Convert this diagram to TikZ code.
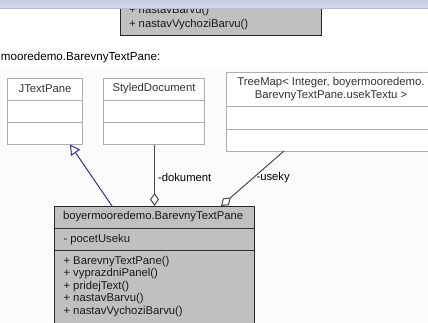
\documentclass[tikz,border=0pt]{standalone}
\usepackage{fontspec}
\setmainfont{Liberation Sans}
\usetikzlibrary{arrows.meta}

\definecolor{barTop}{HTML}{C6CEE3}
\definecolor{barBot}{HTML}{D2D9EA}
\definecolor{barEdge}{HTML}{B4BCD4}
\definecolor{panelBg}{HTML}{FAFBFA}
\definecolor{classGray}{HTML}{C0C0C0}
\definecolor{lightEdge}{HTML}{ADADAD}
\definecolor{inheritBlue}{HTML}{34348A}
\definecolor{assocGray}{HTML}{4A4A4A}

\begin{document}
\begin{tikzpicture}[x=1pt,y=-1pt,
  uml/.style={font=\fontsize{11.3}{13}\selectfont, inner sep=0pt, outer sep=0pt},
  lightbox/.style={draw=lightEdge, fill=white, line width=1pt, rectangle, inner sep=0pt, outer sep=0pt},
  lightline/.style={draw=lightEdge, line width=1pt},
  darkbox/.style={draw=black!85, fill=classGray, line width=1pt, rectangle, inner sep=0pt, outer sep=0pt},
  darkline/.style={draw=black!80, line width=1pt},
  lighttext/.style={uml, text=black!80},
  darktext/.style={uml, text=black!90, anchor=west},
  inherit/.style={draw=inheritBlue, line width=1pt,
    -{Triangle[open, length=10pt, width=11pt, fill=white]}},
  aggreg/.style={draw=assocGray, line width=1pt,
    -{Diamond[open, length=13pt, width=9pt, fill=white]}},
  rolelabel/.style={uml, text=black, anchor=west}]

\clip (0,0) rectangle (428,322);
\useasboundingbox (0,0) rectangle (428,322);
\fill[white] (0,0) rectangle (428,322);
\fill[panelBg] (0,67) rectangle (428,322);

% partly scrolled class box at the top
\node[darkbox, minimum width=201, minimum height=40, anchor=south west] (prev) at (120.5,35.5) {};
\draw[black!85, line width=1.4pt] (prev.north east) -- (prev.south east) -- (prev.south west);
\node[darktext] (prevA) at (129,11) {+ nastavBarvu()};
\node[darktext] (prevB) at (129,24.5) {+ nastavVychoziBarvu()};

% window header strip
\shade[top color=barTop, bottom color=barBot] (0,0) rectangle (428,8.5);
\draw[barEdge, line width=1pt] (0,8.5) -- (428,8.5);

% diagram caption
\node[uml, anchor=west, font=\fontsize{11.6}{13}\selectfont] (caption) at (1,57) {mooredemo.BarevnyTextPane:};

% JTextPane
\node[lightbox, minimum width=75, minimum height=66, anchor=north west] (jtp) at (7.5,78.5) {};
\draw[lightline] (7.5,100.5) -- (82.5,100.5) (7.5,122.5) -- (82.5,122.5);
\node[lighttext] (jtpName) at (45,89) {JTextPane};

% StyledDocument
\node[lightbox, minimum width=101, minimum height=66, anchor=north west] (sd) at (103.5,78.5) {};
\draw[lightline] (103.5,100.5) -- (204.5,100.5) (103.5,122.5) -- (204.5,122.5);
\node[lighttext] (sdName) at (154,89) {StyledDocument};

% TreeMap
\node[lightbox, minimum width=211, minimum height=78.5, anchor=north west] (tm) at (226,72.5) {};
\draw[lightline] (226,106.5) -- (437,106.5) (226,129) -- (437,129);
\node[lighttext, align=center] (tmName) at (331,89.2) {TreeMap< Integer, boyermooredemo.\\[-0.6pt]BarevnyTextPane.usekTextu >};

% BarevnyTextPane
\node[darkbox, minimum width=200, minimum height=130, anchor=north west] (main) at (54.5,206) {};
\draw[black!85, line width=1.4pt] (254.5,206) -- (254.5,336);
\draw[darkline] (54.5,228.5) -- (254.5,228.5) (54.5,250.5) -- (254.5,250.5);
\node[darktext] (mainName) at (63,217) {boyermooredemo.BarevnyTextPane};
\node[darktext] (attr1) at (63.5,239.5) {- pocetUseku};
\node[darktext] (op1) at (63.5,261.5) {+ BarevnyTextPane()};
\node[darktext] (op2) at (63.5,274) {+ vyprazdniPanel()};
\node[darktext] (op3) at (63.5,286.5) {+ pridejText()};
\node[darktext] (op4) at (63.5,299) {+ nastavBarvu()};
\node[darktext] (op5) at (63.5,311.5) {+ nastavVychoziBarvu()};

% connector end points on the class boxes
\coordinate (jtpTip) at (70,144.5);
\coordinate (mainInh) at (112,206);
\coordinate (sdFoot) at (154.5,144.5);
\coordinate (mainDok) at (154.5,206);
\coordinate (tmFoot) at (284,151);
\coordinate (mainUse) at (221,206);

% generalisation and aggregations
\draw[inherit] (mainInh) -- (jtpTip);
\draw[aggreg] (sdFoot) -- (mainDok);
\draw[aggreg] (tmFoot) -- (mainUse);

\node[rolelabel] (dokLabel) at (158,177.5) {-dokument};
\node[rolelabel] (useLabel) at (256.5,177.5) {-useky};
\end{tikzpicture}
\end{document}
